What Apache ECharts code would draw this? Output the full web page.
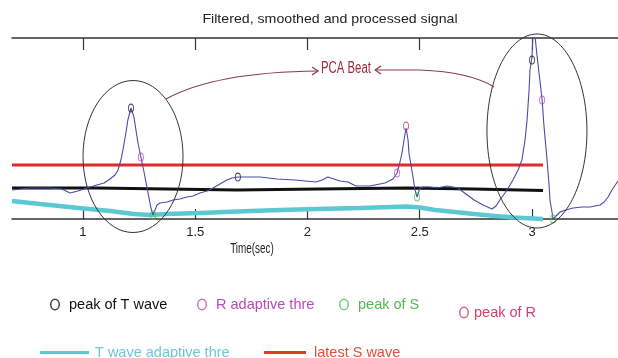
<!DOCTYPE html>
<html><head><meta charset="utf-8">
<script src="https://cdn.jsdelivr.net/npm/echarts@6/dist/echarts.min.js"></script>
<style>html,body{margin:0;padding:0;background:#fff}#c{width:618px;height:358px}</style>
</head><body><div id="c"></div>
<script>
// ---- data (time in seconds, amplitude in arbitrary units) ----
const tickValues = [1, 1.5, 2, 2.5, 3];

const signalTime = [0.684,0.764,0.853,0.906,0.942,0.978,1.018,1.062,1.094,1.120,
1.143,1.156,1.169,1.178,1.192,1.200,1.214,1.227,1.236,1.245,
1.258,1.272,1.285,1.294,1.303,1.312,1.321,1.330,1.343,1.374,
1.401,1.432,1.463,1.490,1.521,1.552,1.579,1.610,1.641,1.664,
1.690,1.744,1.788,1.864,1.944,2.038,2.065,2.091,2.118,2.145,
2.180,2.216,2.278,2.345,2.381,2.399,2.412,2.421,2.430,2.439,
2.448,2.452,2.461,2.470,2.479,2.488,2.501,2.514,2.546,2.577,
2.621,2.648,2.670,2.706,2.742,2.782,2.822,2.840,2.857,2.889,
2.915,2.938,2.955,2.969,2.978,2.987,2.991,3.000,3.004,3.013,
3.022,3.036,3.045,3.053,3.067,3.076,3.080,3.089,3.094,3.107,
3.125,3.151,3.183,3.223,3.258,3.303,3.321,3.339,3.356,3.374,3.383];
const signalValue = [0.29,0.31,0.31,0.30,0.26,0.28,0.31,0.34,0.36,0.40,
0.44,0.49,0.59,0.69,0.87,0.99,1.11,1.02,0.89,0.76,
0.62,0.47,0.32,0.21,0.11,0.04,0.09,0.14,0.16,0.17,
0.19,0.20,0.22,0.23,0.26,0.28,0.31,0.35,0.39,0.41,
0.42,0.42,0.42,0.40,0.39,0.37,0.39,0.42,0.40,0.38,
0.37,0.33,0.33,0.36,0.40,0.46,0.57,0.66,0.79,0.91,
0.79,0.66,0.54,0.42,0.29,0.22,0.31,0.32,0.32,0.31,
0.33,0.32,0.31,0.25,0.19,0.14,0.10,0.13,0.19,0.29,
0.39,0.49,0.59,0.79,0.99,1.29,1.49,1.62,1.84,1.84,
1.64,1.37,1.19,0.94,0.59,0.34,0.19,0.07,0.00,0.03,
0.07,0.09,0.11,0.12,0.12,0.14,0.17,0.22,0.29,0.35,0.38];

const tThreTime = [0.684,0.808,0.982,1.120,1.227,1.298,1.370,1.521,1.686,1.878,2.038,2.234,2.443,2.501,2.568,2.657,2.742,2.835,2.920,3.049];
const tThreValue = [0.18,0.15,0.11,0.08,0.05,0.04,0.05,0.06,0.075,0.09,0.10,0.11,0.125,0.115,0.09,0.07,0.05,0.03,0.015,0.00];

const levelTime = [0.684,1.062,1.686,2.047,2.443,2.742,3.049];
const levelValue = [0.31,0.29,0.30,0.31,0.30,0.285,0.285];

const sWaveTime = [0.684,3.049];
const sWaveValue = [0.54,0.54];

const tPeakTime = [1.214,1.690,3.000];
const tPeakValue = [1.11,0.42,1.59];
const rThreTime = [1.258,2.399,3.045];
const rThreValue = [0.62,0.46,1.19];
const sPeakTime = [1.312,2.488,3.094];
const sPeakValue = [0.04,0.22,0.00];
const rPeakTime = [2.439];
const rPeakValue = [0.93];

// annotation anchors (data coordinates)
const beatCenters = [[1.223,0.625],[3.022,0.88]];

const zip = (a,b) => a.map((v,i)=>[v,b[i]]);
const ring = 'path://M0,6A5,6 0 1,0 10,6A5,6 0 1,0 0,6Z M1.5,6A3.5,4.5 0 1,1 8.5,6A3.5,4.5 0 1,1 1.5,6Z';
const XMIN = 0.684, XMAX = 3.383;
const FONT = 'Liberation Sans';

function legendOne(name, color, textColor, left, top, icon, w, h, pad) {
  return {
    left: left, top: top, itemWidth: w, itemHeight: h, selectedMode: false,
    padding: 0, itemGap: 0,
    data: [{name: name, icon: icon, itemStyle: {color: color}, textStyle: {color: textColor}}],
    textStyle: {fontSize: 14.5, fontFamily: FONT, padding: [0,0,0,pad]}
  };
}

const option = {
  animation: false,
  backgroundColor: '#fff',
  grid: {left: 12, right: 0, top: 38, bottom: 139, containLabel: false},
  xAxis: [{
    type: 'value', min: XMIN, max: XMAX, position: 'bottom',
    axisLine: {lineStyle: {color: '#333', width: 1.5}},
    axisTick: {inside: true, length: 10, customValues: tickValues, lineStyle: {color: '#333', width: 1.2}},
    axisLabel: {customValues: tickValues, color: '#222', fontSize: 13, fontFamily: FONT, margin: 7},
    splitLine: {show: false}
  }, {
    type: 'value', min: XMIN, max: XMAX, position: 'top',
    axisLine: {lineStyle: {color: '#333', width: 1.5}},
    axisTick: {inside: true, length: 12, customValues: tickValues, lineStyle: {color: '#333', width: 1.2}},
    axisLabel: {show: false},
    splitLine: {show: false}
  }],
  yAxis: {type: 'value', min: 0, max: 1.81, show: false},
  legend: [
    legendOne('peak of T wave', '#111', '#111', 50, 297, ring, 10, 12, 4),
    legendOne('R adaptive thre', '#c050c0', '#b84ab8', 197, 297, ring, 10, 12, 4),
    legendOne('peak of S', '#50c050', '#55b555', 339, 297, ring, 10, 12, 4),
    legendOne('peak of R', '#d04060', '#d0406a', 459, 305, ring, 10, 12, 0),
    legendOne('T wave adaptive thre', '#5cc8d2', '#6cc8d4', 40, 345, 'rect', 49, 3, 1),
    legendOne('latest S wave', '#e03a2a', '#d9503a', 264, 345, 'rect', 42, 3, 3)
  ],
  series: [
    {name: 'signal', type: 'line', data: zip(signalTime, signalValue), symbol: 'none',
     lineStyle: {color: '#4a4aa5', width: 1.1}, z: 3},
    {name: 'latest S wave', type: 'line', data: zip(sWaveTime, sWaveValue), symbol: 'none',
     lineStyle: {color: '#dd2a2a', width: 3}, itemStyle: {color: '#e03a2a'}, z: 2},
    {name: 'level', type: 'line', step: 'end', data: zip(levelTime, levelValue), symbol: 'none',
     lineStyle: {color: '#111', width: 2.8}, z: 2},
    {name: 'T wave adaptive thre', type: 'line', data: zip(tThreTime, tThreValue), symbol: 'none', clip: false,
     lineStyle: {color: '#5cc8d2', width: 4.5}, itemStyle: {color: '#5cc8d2'}, z: 1},
    {name: 'peak of T wave', type: 'scatter', data: zip(tPeakTime, tPeakValue), symbol: ring, symbolSize: [6,9],
     itemStyle: {color: '#222'}, z: 5},
    {name: 'R adaptive thre', type: 'scatter', data: zip(rThreTime, rThreValue), symbol: ring, symbolSize: [6,9],
     itemStyle: {color: '#c050c0'}, z: 5},
    {name: 'peak of S', type: 'scatter', data: zip(sPeakTime, sPeakValue), symbol: ring, symbolSize: [6,9],
     itemStyle: {color: '#50c050'}, z: 5},
    {name: 'peak of R', type: 'scatter', data: zip(rPeakTime, rPeakValue), symbol: ring, symbolSize: [6,9],
     itemStyle: {color: '#d04060'}, z: 5}
  ]
};

const chart = echarts.init(document.getElementById('c'), null, {renderer: 'canvas'});
chart.setOption(option);

const px = p => chart.convertToPixel({xAxisIndex: 0, yAxisIndex: 0}, p);
const c1 = px(beatCenters[0]), c2 = px(beatCenters[1]);
const a1s = px([1.370,1.20]), a1c = px([1.588,1.47]), a1e = px([2.047,1.48]);
const a2s = px([2.301,1.49]), a2m = px([2.501,1.49]), a2c = px([2.724,1.47]), a2e = px([2.831,1.32]);
const arrowColor = '#8a3a4a';
chart.setOption({
  graphic: [
    {type: 'text', x: 330, y: 19, scaleX: 1.09, style: {text: 'Filtered, smoothed and processed signal', font: '13px ' + FONT, fill: '#222', textAlign: 'center', textVerticalAlign: 'middle'}},
    {type: 'text', x: 252, y: 249, scaleX: 0.66, style: {text: 'Time(sec)', font: '15px ' + FONT, fill: '#222', textAlign: 'center', textVerticalAlign: 'middle'}},
    {type: 'ellipse', shape: {cx: c1[0], cy: c1[1], rx: 50, ry: 76}, style: {fill: 'transparent', stroke: '#333', lineWidth: 1}, z: 10},
    {type: 'ellipse', shape: {cx: c2[0], cy: c2[1], rx: 50, ry: 97}, style: {fill: 'transparent', stroke: '#333', lineWidth: 1}, z: 10},
    {type: 'bezierCurve', shape: {x1: a1s[0], y1: a1s[1], cpx1: a1c[0], cpy1: a1c[1], x2: a1e[0], y2: a1e[1]}, style: {stroke: arrowColor, lineWidth: 1.2, fill: 'none'}, z: 10},
    {type: 'polyline', shape: {points: [[a1e[0]-6, a1e[1]-4], [a1e[0], a1e[1]], [a1e[0]-6, a1e[1]+4]]}, style: {stroke: arrowColor, lineWidth: 1.2, fill: 'none'}, z: 10},
    {type: 'polyline', shape: {points: [a2s, a2m]}, style: {stroke: arrowColor, lineWidth: 1.2, fill: 'none'}, z: 10},
    {type: 'bezierCurve', shape: {x1: a2m[0], y1: a2m[1], cpx1: a2c[0], cpy1: a2c[1], x2: a2e[0], y2: a2e[1]}, style: {stroke: arrowColor, lineWidth: 1.2, fill: 'none'}, z: 10},
    {type: 'polyline', shape: {points: [[a2s[0]+6, a2s[1]-4], [a2s[0], a2s[1]], [a2s[0]+6, a2s[1]+4]]}, style: {stroke: arrowColor, lineWidth: 1.2, fill: 'none'}, z: 10},
    {type: 'text', x: a1e[0] + 3, y: a1e[1] - 2, scaleX: 0.71, style: {text: 'PCA Beat', font: '16px ' + FONT, fill: '#a0283c', textVerticalAlign: 'middle'}, z: 10}
  ]
});
</script>
</body></html>
